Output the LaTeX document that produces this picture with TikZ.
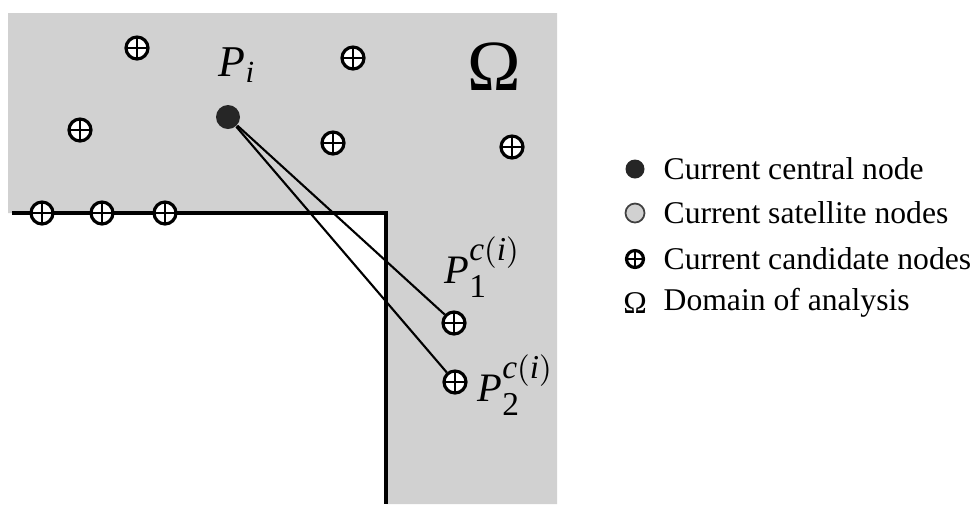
\documentclass[tikz,border=0pt]{standalone}
\usepackage{amsmath}
\usepackage{fontspec}
\setmainfont{Liberation Serif}
\DeclareMathSizes{11.5}{11.5}{9.5}{7}
\definecolor{domgray}{gray}{0.82}
\tikzset{
  cand/.style={circle, draw, line width=0.9pt, fill=white, inner sep=0pt, minimum size=0.22cm,
    path picture={\draw[line width=0.7pt] (path picture bounding box.north) -- (path picture bounding box.south)
      (path picture bounding box.west) -- (path picture bounding box.east);}},
  central/.style={circle, fill=black!85, inner sep=0pt, minimum size=0.24cm},
  sat/.style={circle, draw=black!75, line width=0.5pt, fill=domgray, inner sep=0pt, minimum size=0.19cm},
  legtext/.style={anchor=west, inner sep=0pt, font=\fontsize{9}{11}\selectfont},
}

\begin{document}
\begin{tikzpicture}
\useasboundingbox (0,0) rectangle (9.78,-5.04);
\fill[domgray] (0.08,-0.13) -- (5.57,-0.13) -- (5.57,-5.04) -- (3.86,-5.04) -- (3.86,-2.13) -- (0.08,-2.13) -- cycle;
\draw[line width=1.2pt] (0.12,-2.13) -- (3.86,-2.13) -- (3.86,-5.04);

\node[central] (Pi) at (2.28,-1.17) {};
\node[cand] (a) at (1.37,-0.48) {};
\node[cand] (b) at (3.53,-0.58) {};
\node[cand] (c) at (0.80,-1.30) {};
\node[cand] (d) at (3.33,-1.43) {};
\node[cand] (e) at (5.12,-1.47) {};
\node[cand] (f) at (0.42,-2.13) {};
\node[cand] (g) at (1.02,-2.13) {};
\node[cand] (h) at (1.65,-2.13) {};
\node[cand] (p1) at (4.54,-3.23) {};
\node[cand] (p2) at (4.55,-3.82) {};

\foreach \q in {p1, p2}
{\draw[line width=0.6pt] (Pi) -- (\q);}

\node[anchor=base west, inner sep=0pt] (lPi) at (2.18,-0.76) {\fontsize{12.5}{15}\selectfont $\textit{P}_{\textit{i}}$};
\node (om) at (4.94,-0.67) {\fontsize{20.5}{22}\selectfont Ω};
\node[anchor=base west, inner sep=0pt] (lp1) at (4.44,-2.83) {\fontsize{11.5}{13}\selectfont $\textit{P}_{\text{1}}^{\textit{c}(\textit{i})}$};
\node[anchor=base west, inner sep=0pt] (lp2) at (4.77,-4.01) {\fontsize{11.5}{13}\selectfont $\textit{P}_{\text{2}}^{\textit{c}(\textit{i})}$};

% legend
\node[central, minimum size=0.19cm] (kc) at (6.35,-1.69) {};
\node[sat] (ks) at (6.35,-2.13) {};
\node[cand, minimum size=0.17cm] (kk) at (6.35,-2.59) {};
\node[inner sep=0pt, font=\fontsize{9}{11}\selectfont] (kd) at (6.35,-3.03) {Ω};
\node[legtext] (tc) at (6.63,-1.69) {Current central node};
\node[legtext] (ts) at (6.63,-2.13) {Current satellite nodes};
\node[legtext] (tk) at (6.63,-2.59) {Current candidate nodes};
\node[legtext] (td) at (6.63,-3.03) {Domain of analysis};
\end{tikzpicture}
\end{document}
